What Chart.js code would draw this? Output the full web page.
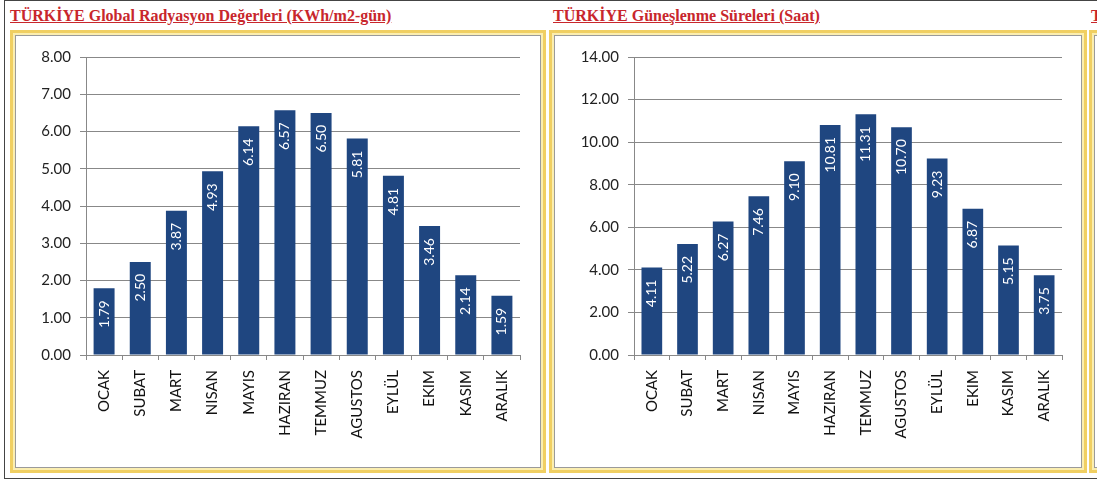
<!DOCTYPE html>
<html>
<head>
<meta charset="utf-8">
<script src="https://cdn.jsdelivr.net/npm/chart.js@4"></script>
<style>
    html, body { margin: 0; padding: 0; background: #fff; width: 1097px; height: 480px; overflow: hidden; }
    #frame { position: absolute; left: 4px; top: 0; width: 1200px; height: 479px; border: 1px solid #444; box-sizing: border-box; }
    .title { position: absolute; top: 7px; font: bold 16px "Liberation Serif", serif; color: #c8262c; text-decoration: underline; white-space: nowrap; }
    .panel { position: absolute; top: 30px; height: 443px; border: 3px solid #f0cf62; padding: 2px; background: #fbeeb0; box-sizing: border-box; }
    .box { border: 1px solid #9a9a9a; background: #fff; height: 100%; box-sizing: border-box; position: relative; }
    .box canvas { position: absolute; left: 0; top: 0; }
</style>
</head>
<body>
<div id="frame"></div>
<div class="title" style="left:10px">TÜRKİYE Global Radyasyon Değerleri (KWh/m2-gün)</div>
<div class="title" style="left:553px">TÜRKİYE Güneşlenme Süreleri (Saat)</div>
<div class="title" style="left:1091px">TÜRKİYE</div>
<div class="panel" style="left:10px; width:536px"><div class="box"><canvas id="radChart"></canvas></div></div>
<div class="panel" style="left:549px; width:538px"><div class="box"><canvas id="sunChart"></canvas></div></div>
<div class="panel" style="left:1089px; width:300px"><div class="box"></div></div>
<script>
    const months = ['OCAK', 'SUBAT', 'MART', 'NISAN', 'MAYIS', 'HAZIRAN', 'TEMMUZ', 'AGUSTOS', 'EYLÜL', 'EKIM', 'KASIM', 'ARALIK'];
    const radiation = [1.79, 2.50, 3.87, 4.93, 6.14, 6.57, 6.50, 5.81, 4.81, 3.46, 2.14, 1.59];
    const sunHours = [4.11, 5.22, 6.27, 7.46, 9.10, 10.81, 11.31, 10.70, 9.23, 6.87, 5.15, 3.75];
    const barColor = '#1f4680';
    const fontFamily = 'Lato, "Open Sans", sans-serif';

    // white rotated value labels inside the top of each bar
    const valueLabels = {
        id: 'valueLabels',
        afterDatasetsDraw(chart) {
            const ctx = chart.ctx;
            const meta = chart.getDatasetMeta(0);
            const data = chart.data.datasets[0].data;
            ctx.save();
            ctx.fillStyle = '#ffffff';
            ctx.font = '14px ' + fontFamily;
            ctx.textAlign = 'right';
            ctx.textBaseline = 'middle';
            meta.data.forEach((bar, i) => {
                ctx.save();
                ctx.translate(bar.x, bar.y + 12);
                ctx.rotate(-Math.PI / 2);
                ctx.fillText(data[i].toFixed(2), 0, 0);
                ctx.restore();
            });
            ctx.restore();
        }
    };

    function makeChart(id, width, values, max, step, yWidth, padRight) {
        const canvas = document.getElementById(id);
        canvas.width = width;
        canvas.height = 431;
        canvas.style.width = width + 'px';
        canvas.style.height = '431px';
        return new Chart(canvas.getContext('2d'), {
            type: 'bar',
            data: {
                labels: months,
                datasets: [{
                    data: values,
                    backgroundColor: barColor,
                    categoryPercentage: 1,
                    barPercentage: 0.58
                }]
            },
            options: {
                responsive: false,
                animation: false,
                layout: { padding: { top: 21, right: padRight, left: 0, bottom: 0 } },
                scales: {
                    x: {
                        grid: { drawOnChartArea: false, drawTicks: true, tickLength: 5, offset: true, color: '#888' },
                        border: { color: '#888' },
                        ticks: { color: '#111', font: { family: fontFamily, size: 15 }, minRotation: 90, maxRotation: 90, padding: 10 },
                        afterFit(s) { s.height = 112; }
                    },
                    y: {
                        min: 0,
                        max: max,
                        grid: { color: '#888', tickLength: 6 },
                        border: { color: '#888' },
                        ticks: {
                            stepSize: step,
                            color: '#222',
                            padding: 9,
                            font: { family: fontFamily, size: 15 },
                            callback: v => v.toFixed(2)
                        },
                        afterFit(s) { s.width = yWidth; }
                    }
                },
                plugins: {
                    legend: { display: false },
                    tooltip: { enabled: false }
                }
            },
            plugins: [valueLabels]
        });
    }

    makeChart('radChart', 524, radiation, 8, 1, 70, 20);
    makeChart('sunChart', 526, sunHours, 14, 2, 79, 19);
</script>
</body>
</html>
